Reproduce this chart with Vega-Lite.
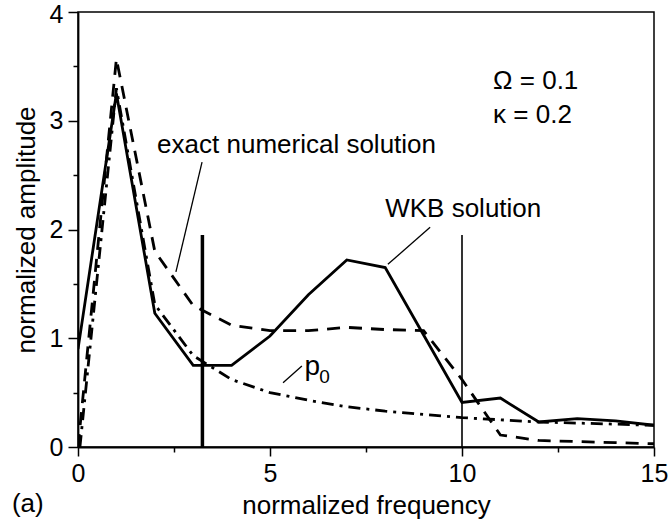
{
  "$schema": "https://vega.github.io/schema/vega-lite/v6.json",
  "width": 576,
  "height": 435,
  "autosize": {"type": "none"},
  "padding": {"left": 78, "top": 12, "right": 16, "bottom": 78},
  "background": "white",
  "config": {
    "view": {"stroke": "black", "strokeWidth": 1.5},
    "font": "Liberation Sans",
    "axis": {
      "domainColor": "black", "domainWidth": 1.8, "tickColor": "black", "tickWidth": 1.5,
      "labelFont": "Liberation Sans", "labelFontSize": 25, "labelColor": "black",
      "titleFont": "Liberation Sans", "titleFontSize": 26, "titleFontWeight": "normal", "titleColor": "black",
      "grid": false, "labelFlush": false, "labelOverlap": false
    }
  },
  "datasets": {
    "wkb": [
      {"f": 0, "a": 0.9}, {"f": 1, "a": 3.25}, {"f": 2, "a": 1.23}, {"f": 3, "a": 0.75},
      {"f": 4, "a": 0.75}, {"f": 5, "a": 1.02}, {"f": 6, "a": 1.4}, {"f": 7, "a": 1.72},
      {"f": 8, "a": 1.65}, {"f": 9, "a": 1.03}, {"f": 10, "a": 0.41}, {"f": 11, "a": 0.45},
      {"f": 12, "a": 0.23}, {"f": 13, "a": 0.26}, {"f": 14, "a": 0.24}, {"f": 15, "a": 0.2}
    ],
    "exact": [
      {"f": 0, "a": 0.0}, {"f": 1, "a": 3.57}, {"f": 2, "a": 1.8}, {"f": 3, "a": 1.3},
      {"f": 4, "a": 1.12}, {"f": 5, "a": 1.07}, {"f": 6, "a": 1.07}, {"f": 7, "a": 1.1},
      {"f": 8, "a": 1.08}, {"f": 9, "a": 1.07}, {"f": 10, "a": 0.62}, {"f": 11, "a": 0.11},
      {"f": 12, "a": 0.06}, {"f": 13, "a": 0.05}, {"f": 14, "a": 0.04}, {"f": 15, "a": 0.03}
    ],
    "p0": [
      {"f": 0.05, "a": 0.0}, {"f": 1, "a": 3.3}, {"f": 2, "a": 1.31}, {"f": 3, "a": 0.84},
      {"f": 4, "a": 0.62}, {"f": 5, "a": 0.5}, {"f": 6, "a": 0.43}, {"f": 7, "a": 0.37},
      {"f": 8, "a": 0.33}, {"f": 9, "a": 0.3}, {"f": 10, "a": 0.27}, {"f": 11, "a": 0.25},
      {"f": 12, "a": 0.23}, {"f": 13, "a": 0.22}, {"f": 14, "a": 0.21}, {"f": 15, "a": 0.2}
    ],
    "vlines": [
      {"f": 3.24, "y0": 0, "y1": 1.95, "w": "thick"},
      {"f": 10, "y0": 0, "y1": 1.95, "w": "thin"}
    ],
    "leaders": [
      {"x1": 3.23, "y1": 2.62, "x2": 2.55, "y2": 1.61},
      {"x1": 9.17, "y1": 2.02, "x2": 8.07, "y2": 1.68},
      {"x1": 5.83, "y1": 0.745, "x2": 5.34, "y2": 0.59}
    ],
    "labels": [
      {"f": 2.06, "a": 2.7, "t": "exact numerical solution", "s": 26},
      {"f": 8.0, "a": 2.115, "t": "WKB solution", "s": 26},
      {"f": 10.81, "a": 3.29, "t": "Ω = 0.1", "s": 26},
      {"f": 10.81, "a": 2.98, "t": "κ = 0.2", "s": 26},
      {"f": 5.9, "a": 0.66, "t": "p", "s": 28},
      {"f": 6.28, "a": 0.59, "t": "0", "s": 19},
      {"f": -1.72, "a": -0.6, "t": "(a)", "s": 26}
    ]
  },
  "encoding": {
    "x": {
      "field": "f", "type": "quantitative",
      "scale": {"domain": [0, 15], "nice": false, "zero": false},
      "axis": {
        "title": "normalized frequency",
        "values": [0, 2.5, 5, 7.5, 10, 12.5, 15],
        "labelExpr": "datum.value % 5 === 0 ? format(datum.value, 'd') : ''",
        "tickSize": {"condition": {"test": "datum.value % 5 !== 0", "value": 5}, "value": 9},
        "labelPadding": 5,
        "titlePadding": 6
      }
    },
    "y": {
      "field": "a", "type": "quantitative",
      "scale": {"domain": [0, 4], "nice": false, "zero": false},
      "axis": {
        "title": "normalized amplitude",
        "values": [0, 0.5, 1, 1.5, 2, 2.5, 3, 3.5, 4],
        "labelExpr": "datum.value % 1 === 0 ? format(datum.value, 'd') : ''",
        "tickSize": {"condition": {"test": "datum.value % 1 !== 0", "value": 5}, "value": 10},
        "labelOffset": {"condition": {"test": "datum.value === 4", "value": 2}, "value": 0},
        "labelPadding": 5,
        "titlePadding": 10
      }
    }
  },
  "layer": [
    {
      "data": {"name": "exact"},
      "mark": {"type": "line", "color": "black", "strokeWidth": 2.8, "strokeDash": [13, 9], "clip": true}
    },
    {
      "data": {"name": "p0"},
      "mark": {"type": "line", "color": "black", "strokeWidth": 2.8, "strokeDash": [12, 6, 3, 6], "clip": true}
    },
    {
      "data": {"name": "wkb"},
      "mark": {"type": "line", "color": "black", "strokeWidth": 2.8, "strokeJoin": "miter", "clip": true}
    },
    {
      "data": {"name": "vlines"},
      "mark": {"type": "rule", "color": "black"},
      "encoding": {
        "y": {"field": "y0", "type": "quantitative"},
        "y2": {"field": "y1"},
        "strokeWidth": {"field": "w", "type": "nominal", "scale": {"domain": ["thick", "thin"], "range": [3.5, 1.6]}, "legend": null}
      }
    },
    {
      "data": {"name": "leaders"},
      "mark": {"type": "rule", "color": "black", "strokeWidth": 1.3},
      "encoding": {
        "x": {"field": "x1", "type": "quantitative"},
        "y": {"field": "y1", "type": "quantitative"},
        "x2": {"field": "x2"},
        "y2": {"field": "y2"}
      }
    },
    {
      "data": {"name": "labels"},
      "mark": {"type": "text", "align": "left", "baseline": "alphabetic", "color": "black", "font": "Liberation Sans"},
      "encoding": {
        "text": {"field": "t"},
        "size": {"field": "s", "type": "quantitative", "scale": null}
      }
    }
  ]
}
